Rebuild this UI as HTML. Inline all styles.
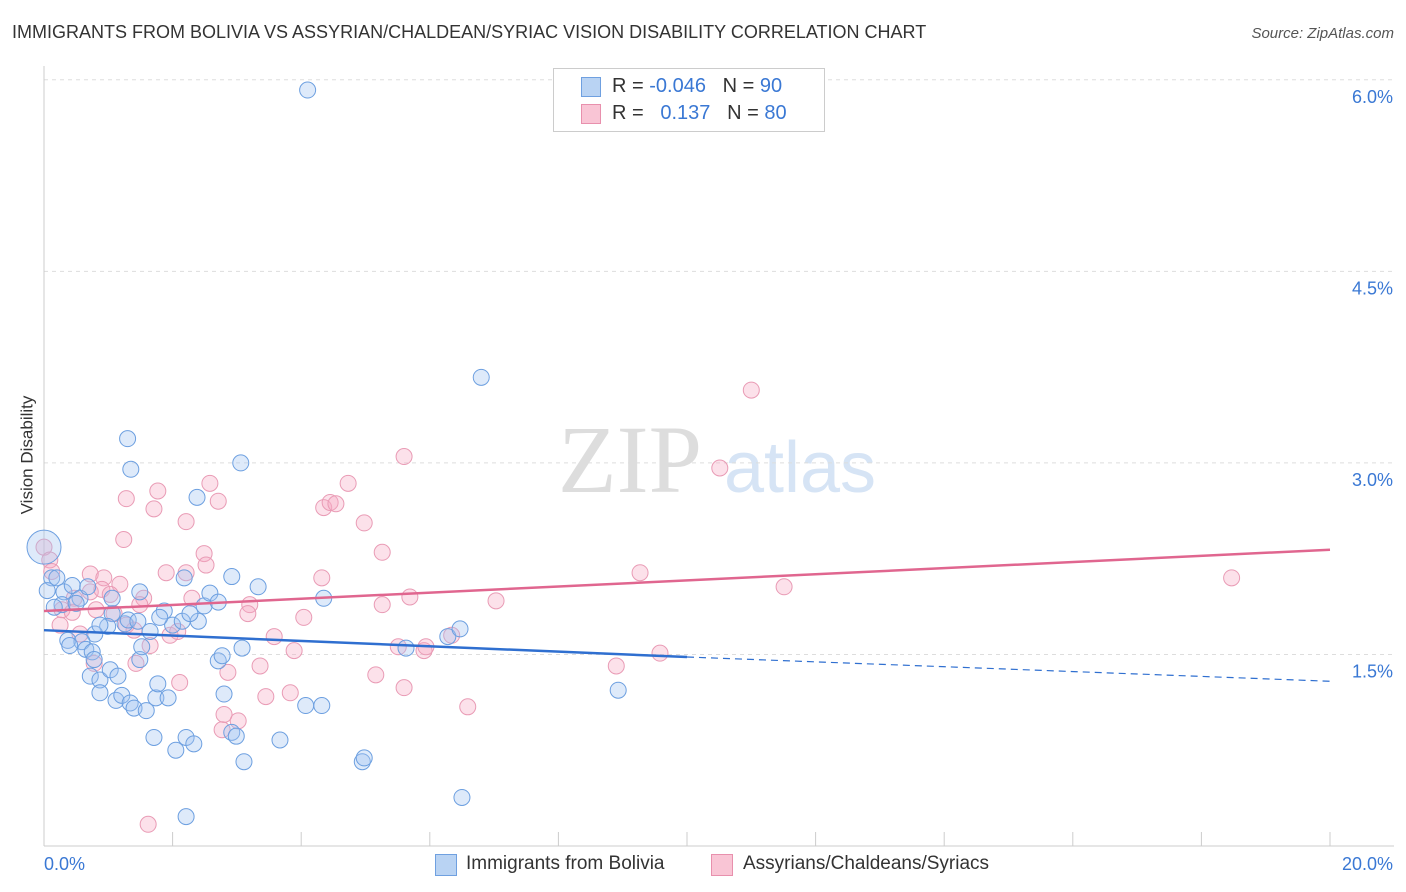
<!DOCTYPE html>
<html><head><meta charset="utf-8">
<style>
body{margin:0;background:#fff;font-family:"Liberation Sans",sans-serif;}
#wrap{position:relative;width:1406px;height:892px;overflow:hidden;}
.t{position:absolute;white-space:nowrap;}
</style></head><body>
<div id="wrap">
<div class="t" style="left:12px;top:22px;font-size:18px;color:#333;">IMMIGRANTS FROM BOLIVIA VS ASSYRIAN/CHALDEAN/SYRIAC VISION DISABILITY CORRELATION CHART</div>
<div class="t" style="right:12px;top:25px;font-size:15px;color:#555;font-style:italic;">Source: ZipAtlas.com</div>
<div class="t" style="left:-32px;top:445px;font-size:17px;color:#333;transform:rotate(-90deg);">Vision Disability</div>
<svg id="plot" width="1406" height="892" style="position:absolute;left:0;top:0">
<text x="630" y="492" font-size="96" font-family="Liberation Serif" fill="#ddd" text-anchor="middle">ZIP</text>
<text x="800" y="492" font-size="72" fill="#d6e4f5" text-anchor="middle">atlas</text>
</svg>
<div style="position:absolute;left:553px;top:68px;width:270px;height:62px;border:1px solid #ccc;background:#fff;font-size:20px;">
<div style="position:absolute;left:27px;top:8px;width:18px;height:18px;background:#b9d3f3;border:1px solid #6fa0e0;"></div>
<div class="t" style="left:58px;top:6px;color:#333;">R = <span style="color:#3a78d4">-0.046</span> &nbsp;&nbsp;N = <span style="color:#3a78d4">90</span></div>
<div style="position:absolute;left:27px;top:35px;width:18px;height:18px;background:#f9c5d5;border:1px solid #e890ad;"></div>
<div class="t" style="left:58px;top:33px;color:#333;">R = &nbsp;&nbsp;<span style="color:#3a78d4">0.137</span> &nbsp;&nbsp;N = <span style="color:#3a78d4">80</span></div>
</div>
<div>
<div style="position:absolute;left:435px;top:854px;width:20px;height:20px;background:#b9d3f3;border:1px solid #6fa0e0;"></div>
<div class="t" style="left:466px;top:853px;font-size:19px;color:#333;">Immigrants from Bolivia</div>
<div style="position:absolute;left:711px;top:854px;width:20px;height:20px;background:#f9c5d5;border:1px solid #e890ad;"></div>
<div class="t" style="left:743px;top:853px;font-size:19px;color:#333;">Assyrians/Chaldeans/Syriacs</div>
</div>
</div>
<script>
const yTicks=[1.5,3.0,4.5,6.0];
const yTickLabels=["1.5%","3.0%","4.5%","6.0%"];
const xTickLabels=["0.0%","20.0%"];
const blueX=[4.1,6.8,1.3,1.35,3.06,2.38,0,0.12,0.2,0.05,0.31,0.44,0.56,0.28,0.16,0.5,0.68,1.06,0.99,0.79,0.37,0.59,0.40,0.65,0.75,0.78,0.72,0.87,1.03,1.15,0.87,1.12,1.21,1.34,1.4,1.59,1.74,1.93,1.77,1.49,1.52,1.65,1.26,1.31,1.46,1.87,2.0,2.15,2.4,2.49,2.58,2.71,2.92,3.33,2.18,3.08,2.71,2.77,2.8,2.92,2.99,3.11,3.67,1.71,2.05,2.21,2.33,2.21,4.07,4.32,4.95,4.98,6.5,4.35,5.63,6.28,6.47,8.93,1.06,1.8,0.87,1.49,2.27];
const blueY=[5.92,3.67,3.19,2.95,3.0,2.73,2.34,2.10,2.10,2.0,1.99,2.04,1.94,1.89,1.87,1.90,2.03,1.82,1.72,1.66,1.61,1.60,1.57,1.54,1.52,1.46,1.33,1.30,1.38,1.33,1.20,1.14,1.18,1.12,1.08,1.06,1.16,1.16,1.27,1.46,1.56,1.68,1.74,1.77,1.76,1.84,1.73,1.76,1.76,1.88,1.98,1.91,2.11,2.03,2.10,1.55,1.45,1.49,1.19,0.89,0.86,0.66,0.83,0.85,0.75,0.85,0.80,0.23,1.10,1.10,0.66,0.69,0.38,1.94,1.55,1.64,1.70,1.22,1.94,1.79,1.73,1.99,1.82];
const pinkX=[11.0,10.51,5.6,4.73,4.35,4.45,4.54,2.58,2.71,1.77,1.28,1.71,2.21,1.24,4.98,5.26,0,0.09,0.12,0.72,0.93,1.18,1.9,2.21,2.49,2.52,1.55,1.49,0.47,0.72,0.90,0.28,0.25,0.56,0.81,1.09,1.28,1.4,1.65,1.96,2.08,2.3,3.2,3.17,4.04,4.32,5.69,5.26,7.03,9.27,11.51,18.47,3.58,3.89,3.36,2.86,2.11,1.43,0.78,5.16,5.51,5.91,5.94,6.34,5.6,3.83,3.45,6.59,8.9,9.58,3.02,2.8,1.62,2.77,0.44,1.03];
const pinkY=[3.57,2.96,3.05,2.84,2.65,2.69,2.68,2.84,2.70,2.78,2.72,2.64,2.54,2.4,2.53,2.30,2.34,2.24,2.15,2.13,2.10,2.05,2.14,2.14,2.29,2.20,1.94,1.89,1.94,1.99,2.01,1.85,1.73,1.66,1.85,1.82,1.73,1.69,1.57,1.65,1.68,1.94,1.89,1.82,1.79,2.10,1.95,1.89,1.92,2.14,2.03,2.10,1.64,1.53,1.41,1.36,1.28,1.43,1.43,1.34,1.56,1.53,1.56,1.65,1.24,1.20,1.17,1.09,1.41,1.51,0.98,1.03,0.17,0.91,1.83,1.97];
const blueBig=[6];
const blueTrend=[1.69,1.48,1.29];
const pinkTrend=[1.84,2.32];
const NS="http://www.w3.org/2000/svg";
const svg=document.getElementById('plot');
const X0=44,X1=1330,Y0=846,PPU=127.7;
const sx=v=>X0+(X1-X0)*v/20, sy=v=>Y0-v*PPU;
function mk(tag,a){const e=document.createElementNS(NS,tag);for(const k in a)e.setAttribute(k,a[k]);svg.appendChild(e);return e;}
yTicks.forEach((t,i)=>{
 const g=mk('line',{x1:X0,x2:1394,y1:sy(t),y2:sy(t),stroke:'#ddd','stroke-dasharray':'4,4'});
 
 
 const l=mk('text',{x:1393,y:sy(t)+23,'font-size':18,fill:'#3a78d4','text-anchor':'end'});
 l.textContent=yTickLabels[i];
 
 
});
const ax=mk('line',{x1:X0,x2:X0,y1:66,y2:Y0,stroke:'#ccc'});


const bx=mk('line',{x1:X0,x2:1394,y1:Y0,y2:Y0,stroke:'#ccc'});


for(let i=0;i<=10;i++){const t=mk('line',{x1:sx(i*2),x2:sx(i*2),y1:Y0,y2:Y0-14,stroke:'#ccc'});
 
 }
[[0,'start',X0],[1,'end',1393]].forEach(([i,a,x])=>{const l=mk('text',{x:x,y:870,'font-size':18,fill:'#3a78d4','text-anchor':a});l.textContent=xTickLabels[i];
 
 });
pinkX.forEach((x,i)=>{const c=mk('circle',{cx:sx(x),cy:sy(pinkY[i]),r:8,fill:'rgba(246,170,195,0.35)',stroke:'#e99bb5','stroke-width':1});
 
 });
blueX.forEach((x,i)=>{const c=mk('circle',{cx:sx(x),cy:sy(blueY[i]),r:blueBig.includes(i)?17:8,fill:'rgba(160,196,240,0.35)',stroke:'#6c9fe0','stroke-width':1});
 
 });
let l1=mk('line',{x1:sx(0),y1:sy(blueTrend[0]),x2:sx(10),y2:sy(blueTrend[1]),stroke:'#2f6fd0','stroke-width':2.5});


let l2=mk('line',{x1:sx(10),y1:sy(blueTrend[1]),x2:sx(20),y2:sy(blueTrend[2]),stroke:'#2f6fd0','stroke-width':1.2,'stroke-dasharray':'7,5'});


let l3=mk('line',{x1:sx(0),y1:sy(pinkTrend[0]),x2:sx(20),y2:sy(pinkTrend[1]),stroke:'#e0668f','stroke-width':2.5});


</script>
</body></html>
